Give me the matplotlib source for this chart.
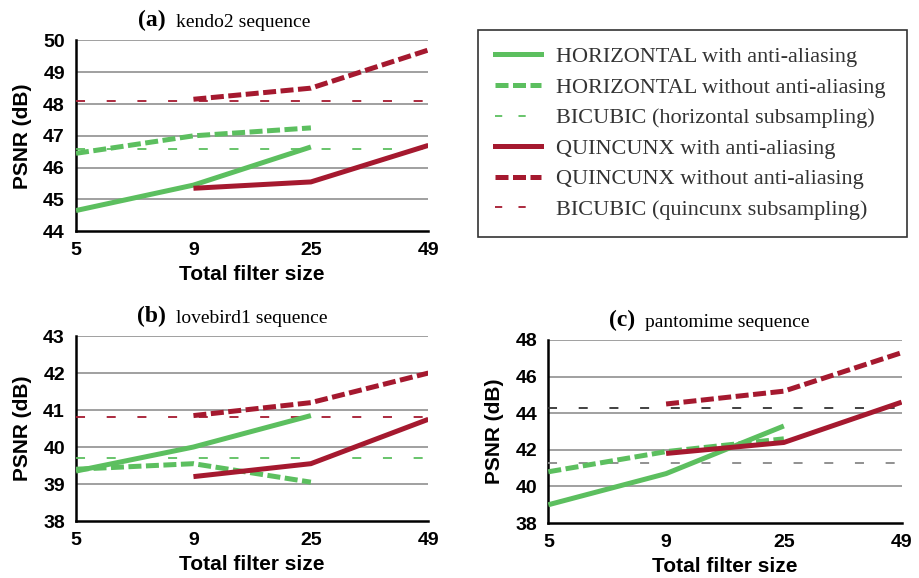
import matplotlib
matplotlib.use("Agg")
import matplotlib.pyplot as plt
from matplotlib.lines import Line2D

filter_sizes = ['5', '9', '25', '49']

# (a) kendo2
a_h_aa = [44.65, 45.45, 46.65]
a_h_noaa = [46.45, 47.0, 47.25]
a_h_bic = 46.6
a_q_aa = [45.35, 45.55, 46.7]
a_q_noaa = [48.15, 48.5, 49.7]
a_q_bic = 48.1

# (b) lovebird1
b_h_aa = [39.35, 40.0, 40.85]
b_h_noaa = [39.4, 39.55, 39.05]
b_h_bic = 39.7
b_q_aa = [39.2, 39.55, 40.75]
b_q_noaa = [40.85, 41.2, 42.0]
b_q_bic = 40.8

# (c) pantomime
c_h_aa = [39.0, 40.7, 43.3]
c_h_noaa = [40.8, 41.9, 42.6]
c_h_bic = 41.3
c_q_aa = [41.8, 42.4, 44.6]
c_q_noaa = [44.5, 45.2, 47.3]
c_q_bic = 44.3

green = '#5cbf5f'
red = '#a5192f'
lw = 3.6
thick_dash = (0, (2.6, 0.9))
thin_dash = (0, (5, 12))

sans = ['Liberation Sans', 'DejaVu Sans']
serif = ['Liberation Serif', 'DejaVu Serif']


def panel(ax, h_aa, h_noaa, h_bic, q_aa, q_noaa, q_bic, ylim, ystep, letter, name, title_x,
          hbic_color=green, qbic_color=red):
    xh = [0, 1, 2]
    xq = [1, 2, 3]
    ax.plot([0, 3], [h_bic, h_bic], color=hbic_color, lw=1.3, ls=thin_dash, zorder=3)
    ax.plot([0, 3], [q_bic, q_bic], color=qbic_color, lw=1.3, ls=thin_dash, zorder=3)
    ax.plot(xh, h_aa, color=green, lw=lw, solid_capstyle='butt', zorder=4)
    ax.plot(xh, h_noaa, color=green, lw=lw, ls=thick_dash, zorder=4)
    ax.plot(xq, q_aa, color=red, lw=lw, solid_capstyle='butt', zorder=4)
    ax.plot(xq, q_noaa, color=red, lw=lw, ls=thick_dash, zorder=4)

    ax.set_xlim(0, 3)
    ax.set_ylim(*ylim)
    yt = list(range(ylim[0], ylim[1] + 1, ystep))
    ax.set_yticks(yt)
    ax.set_xticks(range(4))
    ax.set_xticklabels(filter_sizes)
    for y in yt[1:]:
        ax.axhline(y, color='#999999', lw=1.3, zorder=1)
    for s in ['top', 'right']:
        ax.spines[s].set_visible(False)
    ax.spines['left'].set_linewidth(1.8)
    ax.spines['bottom'].set_linewidth(1.8)
    ax.tick_params(axis='y', length=0, pad=8)
    ax.tick_params(axis='x', length=0, pad=8)
    for lab in ax.get_xticklabels() + ax.get_yticklabels():
        lab.set_fontfamily(sans)
        lab.set_fontweight('bold')
        lab.set_fontsize(14)
    ax.set_xlabel('Total filter size', fontfamily=sans, fontweight='bold', fontsize=15, labelpad=4)
    ax.set_ylabel('PSNR (dB)', fontfamily=sans, fontweight='bold', fontsize=15, labelpad=8)
    ax.text(title_x, 1.05, letter, transform=ax.transAxes, ha='right', va='bottom',
            fontfamily=serif, fontweight='bold', fontsize=17)
    ax.annotate(name, xy=(title_x, 1.05), xycoords='axes fraction', xytext=(7, 0),
                textcoords='offset points', ha='left', va='bottom',
                fontfamily=serif, fontsize=14)


fig = plt.figure(figsize=(9.2, 5.78), dpi=100)
ax_a = fig.add_axes([0.0826, 0.600, 0.383, 0.330])
ax_b = fig.add_axes([0.0826, 0.0986, 0.383, 0.320])
ax_c = fig.add_axes([0.596, 0.095, 0.384, 0.317])

panel(ax_a, a_h_aa, a_h_noaa, a_h_bic, a_q_aa, a_q_noaa, a_q_bic, (44, 50), 1, '(a)', 'kendo2 sequence', 0.255)
panel(ax_b, b_h_aa, b_h_noaa, b_h_bic, b_q_aa, b_q_noaa, b_q_bic, (38, 43), 1, '(b)', 'lovebird1 sequence', 0.255)
panel(ax_c, c_h_aa, c_h_noaa, c_h_bic, c_q_aa, c_q_noaa, c_q_bic, (38, 48), 2, '(c)', 'pantomime sequence', 0.245,
      hbic_color='#888888', qbic_color='#333333')

handles = [
    Line2D([], [], color=green, lw=lw),
    Line2D([], [], color=green, lw=lw, ls=thick_dash),
    Line2D([], [], color=green, lw=1.3, ls=(0, (4, 9))),
    Line2D([], [], color=red, lw=lw),
    Line2D([], [], color=red, lw=lw, ls=thick_dash),
    Line2D([], [], color=red, lw=1.3, ls=(0, (4, 9))),
]
labels = [
    'HORIZONTAL with anti-aliasing',
    'HORIZONTAL without anti-aliasing',
    'BICUBIC (horizontal subsampling)',
    'QUINCUNX with anti-aliasing',
    'QUINCUNX without anti-aliasing',
    'BICUBIC (quincunx subsampling)',
]
leg = fig.legend(handles, labels, loc='upper left',
                 bbox_to_anchor=(478 / 920, 1 - 236 / 578, 429 / 920, 206 / 578),
                 mode='expand', prop={'family': serif, 'size': 16}, frameon=True, fancybox=False,
                 edgecolor='black', handlelength=2.1, handletextpad=0.65,
                 labelspacing=0.45, borderpad=0.75, borderaxespad=0)
leg.get_frame().set_linewidth(1.2)
for t in leg.get_texts():
    t.set_color('#333333')

fig.savefig('out.png', dpi=100)
